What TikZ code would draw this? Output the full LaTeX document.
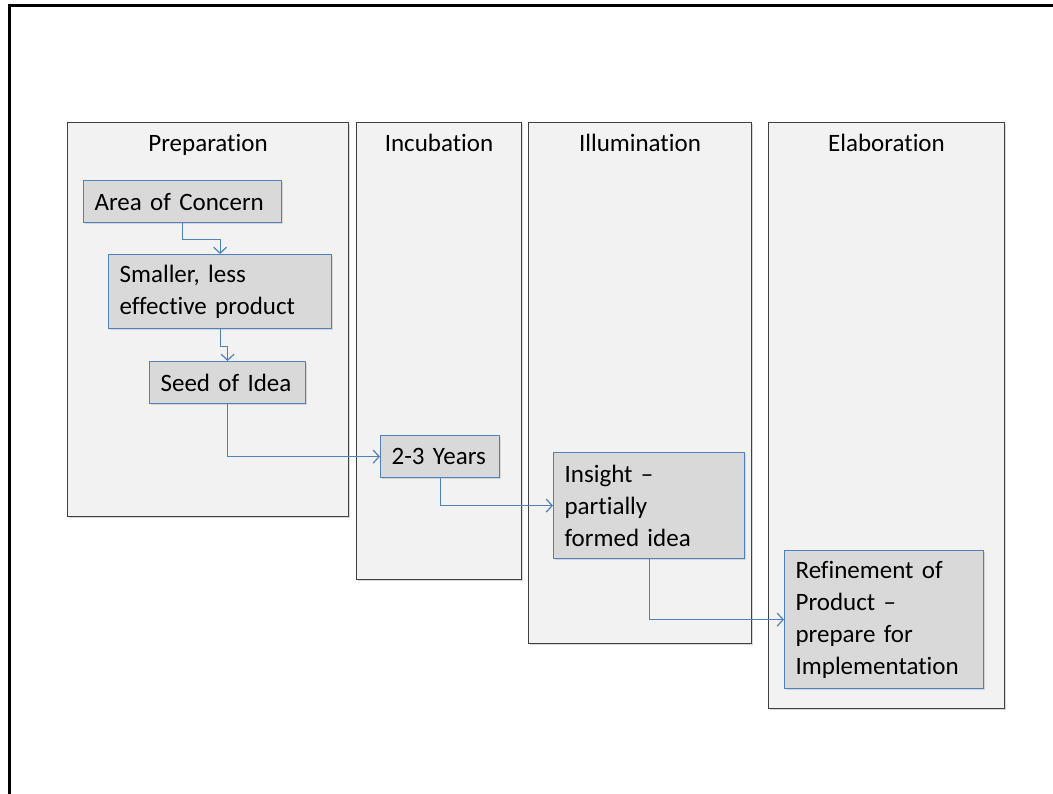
\documentclass[tikz,border=0pt]{standalone}
\usepackage{fontspec}
\setmainfont{Carlito}[Ligatures=NoCommon]
\usetikzlibrary{arrows.meta,shadows}
\definecolor{flowblue}{HTML}{4F81BD}
\definecolor{stagegray}{HTML}{D9D9D9}
\definecolor{phasegray}{HTML}{F2F2F2}
\definecolor{phaseline}{HTML}{404040}
\tikzset{
  phase/.style={draw=phaseline, fill=phasegray, line width=1pt, anchor=north west,
    inner sep=0pt, drop shadow={shadow xshift=1.5pt, shadow yshift=-1.5pt, opacity=0.3}},
  phasetitle/.style={font=\fontsize{25}{31}\selectfont, inner sep=0pt, anchor=base},
  stagebox/.style={draw=flowblue, fill=stagegray, line width=1.2pt, anchor=north west,
    align=left, inner xsep=11pt, inner ysep=0pt, font=\fontsize{25}{32}\selectfont,
    drop shadow={shadow xshift=1.5pt, shadow yshift=-1.5pt, opacity=0.25}},
  flow/.style={draw=flowblue, line width=1.2pt, -{Straight Barb[length=6pt,width=13pt]}}
}
\begin{document}
\begin{tikzpicture}[x=1pt,y=-1pt]
  \useasboundingbox (0,0) rectangle (1053,794);
  % frame
  \draw[line width=3pt] (9,794) -- (9,6) -- (1053,6);
  % phases
  \node[phase, minimum width=281pt, minimum height=394pt] (prep) at (67,122) {};
  \node[phase, minimum width=165pt, minimum height=457pt] (incub) at (356,122) {};
  \node[phase, minimum width=223pt, minimum height=521pt] (illum) at (528,122) {};
  \node[phase, minimum width=236pt, minimum height=586pt] (elab) at (768,122) {};
  \node[phasetitle] (preptitle) at ([yshift=-30pt]prep.north) {Preparation};
  \node[phasetitle] (incubtitle) at ([yshift=-30pt]incub.north) {Incubation};
  \node[phasetitle] (illumtitle) at ([yshift=-30pt]illum.north) {Illumination};
  \node[phasetitle] (elabtitle) at ([yshift=-30pt]elab.north) {Elaboration};
  % stages
  \node[stagebox, text width=176pt, minimum height=42pt] (concern) at (83,180) {Area of Concern};
  \node[stagebox, text width=201pt, minimum height=74pt] (smaller) at (108,254) {Smaller, less\\effective product};
  \node[stagebox, text width=134pt, minimum height=42pt] (seed) at (149,361) {Seed of Idea};
  \node[stagebox, text width=97pt, minimum height=42pt] (years) at (380,435) {2-3 Years};
  \node[stagebox, text width=169pt, minimum height=106pt] (insight) at (553,452) {Insight --\\partially\\formed idea};
  \node[stagebox, text width=177pt, minimum height=138pt] (refine) at (784,550) {Refinement of\\Product --\\prepare for\\Implementation};
  % connectors
  \draw[flow] (concern.south) -- ++(0,16) -| (smaller.north);
  \draw[flow] (smaller.south) -- ++(0,17) -| (seed.north);
  \draw[flow] (seed.south) |- (years.west);
  \draw[flow] (years.south) |- (insight.west);
  \draw[flow] (insight.south) |- (refine.west);
\end{tikzpicture}
\end{document}
